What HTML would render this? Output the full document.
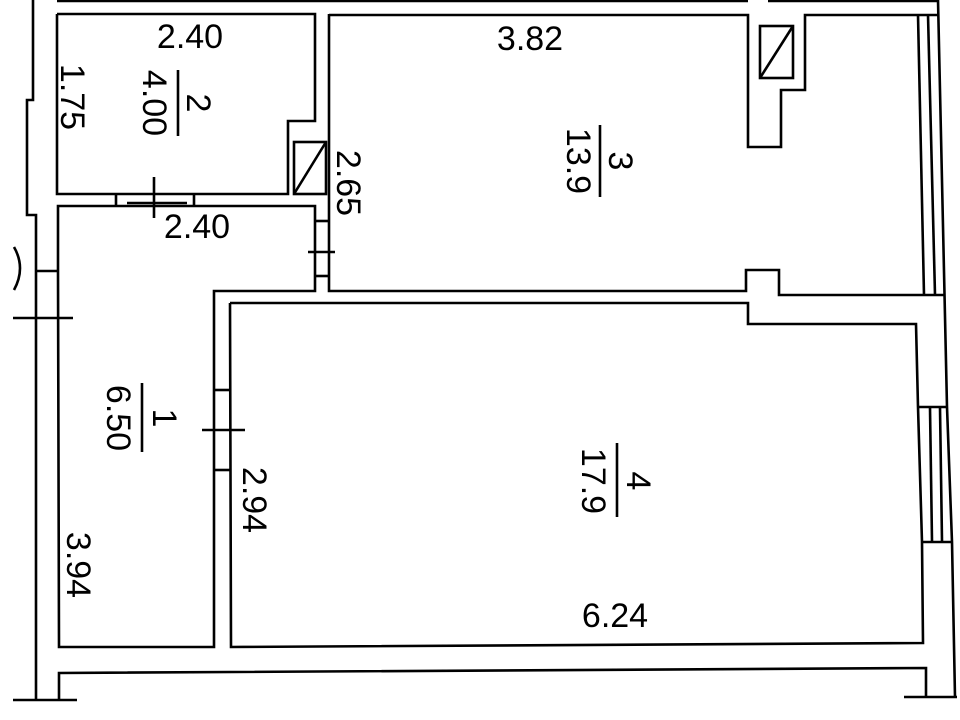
<!DOCTYPE html>
<html><head><meta charset="utf-8"><style>
html,body{margin:0;padding:0;background:#fff;}
svg{display:block;}
text{font-family:"Liberation Sans",sans-serif;font-size:34px;fill:#000;}
</style></head><body>
<svg width="960" height="720" viewBox="0 0 960 720" xmlns="http://www.w3.org/2000/svg">
<g fill="none" stroke="#000" stroke-width="2.6">
<polyline points="57,1 748,1"/>
<polyline points="768,1 938,1"/>
<polyline points="33,0 33,100 27,100 27,215 36,215 36,700"/>
<line x1="13" y1="700" x2="77" y2="700"/>
<polyline points="59,700 59,673 926,668 926,697"/>
<line x1="904" y1="697" x2="957" y2="697"/>
<polyline points="938,0 947,407 952,542 955,697"/>
<polyline points="57,14 315,14 315,121 288,121 288,194 57,194 57,14"/>
<rect x="294" y="142" width="32" height="52"/>
<line x1="294" y1="194" x2="326" y2="142"/>
<polyline points="116,194 116,206"/>
<polyline points="194,194 194,206"/>
<line x1="127" y1="203" x2="187" y2="203"/>
<line x1="154" y1="177" x2="154" y2="218"/>
<polyline points="58,271 58,206 315,206 315,291 214,291 214,647 59,647 58,271"/>
<line x1="36" y1="271" x2="58" y2="271"/>
<line x1="13" y1="318" x2="73" y2="318"/>
<path d="M14,247 Q26,268 14,290"/>
<line x1="315" y1="221" x2="329" y2="221"/>
<line x1="315" y1="276" x2="329" y2="276"/>
<line x1="308" y1="252" x2="335" y2="252"/>
<polyline points="329,14 329,291 746,291 746,270 779,270 779,295 924,295"/>
<polyline points="329,15 748,15 748,147 781,147 781,90 805,90 805,15 938,15"/>
<rect x="760" y="26" width="33" height="52"/>
<line x1="760" y1="78" x2="793" y2="26"/>
<line x1="918" y1="15" x2="924" y2="295"/>
<line x1="928" y1="15" x2="935" y2="295"/>
<line x1="924" y1="295" x2="945" y2="295"/>
<polyline points="230,303 748,303 748,324 916,324 918,407 922,542 923,643 231,647 230,303"/>
<line x1="918" y1="407" x2="947" y2="407"/>
<line x1="922" y1="542" x2="952" y2="542"/>
<line x1="930" y1="408" x2="932" y2="541"/>
<line x1="940" y1="408" x2="942" y2="541"/>
<line x1="214" y1="390" x2="230" y2="390"/>
<line x1="214" y1="470" x2="230" y2="470"/>
<line x1="202" y1="430" x2="245" y2="430"/>
<line x1="178" y1="70" x2="178" y2="136"/>
<line x1="600" y1="125" x2="600" y2="197"/>
<line x1="142" y1="383" x2="142" y2="452"/>
<line x1="617" y1="443" x2="617" y2="517"/>
</g>
<g text-anchor="middle">
<text x="190" y="48">2.40</text>
<text x="530" y="50">3.82</text>
<text x="197" y="238">2.40</text>
<text x="615" y="627">6.24</text>
<text transform="translate(61,97) rotate(90)">1.75</text>
<text transform="translate(143,103) rotate(90)">4.00</text>
<text transform="translate(187,103) rotate(90)">2</text>
<text transform="translate(567,161) rotate(90)">13.9</text>
<text transform="translate(609,161) rotate(90)">3</text>
<text transform="translate(337,183) rotate(90)">2.65</text>
<text transform="translate(107,418) rotate(90)">6.50</text>
<text transform="translate(153,418) rotate(90)">1</text>
<text transform="translate(243,500) rotate(90)">2.94</text>
<text transform="translate(67,565) rotate(90)">3.94</text>
<text transform="translate(582,481) rotate(90)">17.9</text>
<text transform="translate(627,481) rotate(90)">4</text>
</g>
</svg>
</body></html>
